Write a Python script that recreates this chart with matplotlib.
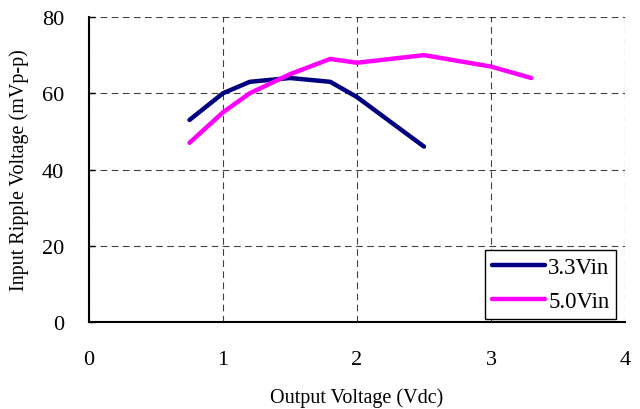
import matplotlib
matplotlib.use("Agg")
import matplotlib.pyplot as plt

# values
vout = [0.75, 1.0, 1.2, 1.5, 1.8, 2.0, 2.5]
ripple_33 = [53, 60, 63, 64, 63, 59, 46]

vout_50 = [0.75, 1.0, 1.2, 1.5, 1.8, 2.0, 2.5, 3.0, 3.3]
ripple_50 = [47, 55, 60, 65, 69, 68, 70, 67, 64]

series_names = ["3.3Vin", "5.0Vin"]
xticks = [0, 1, 2, 3, 4]
yticks = [0, 20, 40, 60, 80]

plt.rcParams['font.family'] = ['Liberation Serif', 'DejaVu Serif']

fig = plt.figure(figsize=(6.4, 4.1), dpi=100)
ax = fig.add_axes([89 / 640, 87 / 410, 536 / 640, 305 / 410])

ax.plot(vout, ripple_33, color="#000080", lw=3.2, solid_capstyle="round", label=series_names[0])
ax.plot(vout_50, ripple_50, color="#ff00ff", lw=3.2, solid_capstyle="round", label=series_names[1])

ax.set_xlim(0, 4)
ax.set_ylim(0, 80)
ax.set_xticks(xticks)
ax.set_yticks(yticks)
ax.grid(True, color="black", ls=(0, (6, 4)), lw=0.8, alpha=0.75)
ax.set_axisbelow(True)

ax.spines["top"].set_visible(False)
ax.spines["right"].set_visible(False)
ax.spines["left"].set_linewidth(1.5)
ax.spines["bottom"].set_linewidth(1.5)

ax.tick_params(axis="y", direction="in", length=4, width=1, pad=18, labelsize=16)
ax.tick_params(axis="x", length=0, pad=20, labelsize=16)

ax.set_xlabel("Output Voltage (Vdc)", fontsize=14.5, labelpad=13)
ax.set_ylabel("Input Ripple Voltage (mVp-p)", fontsize=14.5, labelpad=9)

leg = ax.legend(loc="lower right", bbox_to_anchor=(0.988, 0.003), fontsize=16.5,
                frameon=True, fancybox=False, edgecolor="black", framealpha=1,
                handlelength=2.3, handletextpad=0.15, borderpad=0.3,
                labelspacing=0.55, borderaxespad=0.1)
leg.get_frame().set_linewidth(1)

fig.savefig("out.png", dpi=100)
